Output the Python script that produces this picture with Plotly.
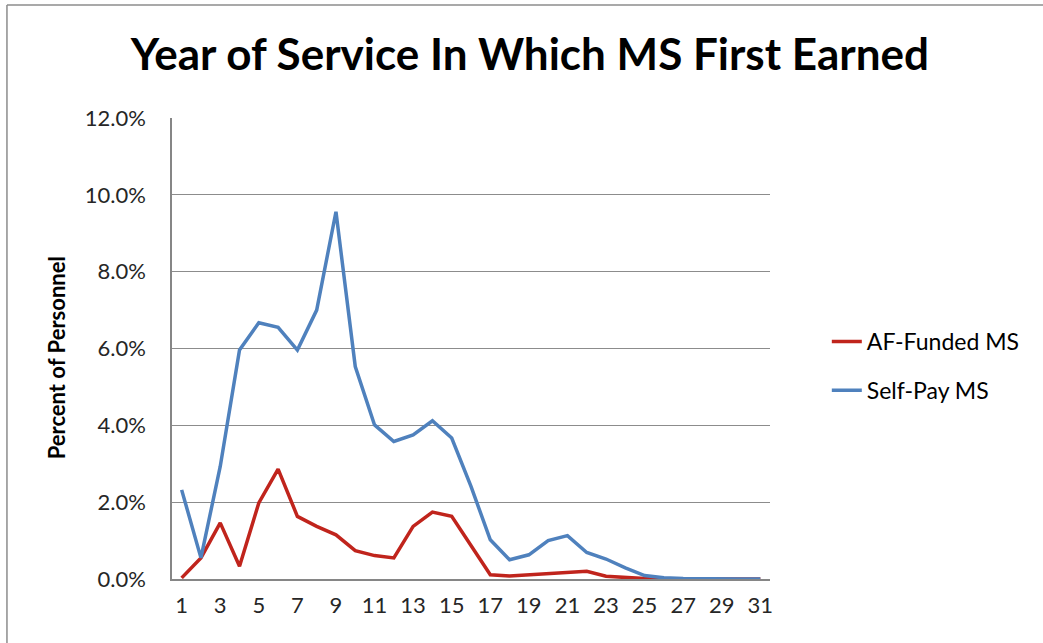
import plotly.graph_objects as go

years = list(range(1, 32))
af_funded = [0.0003, 0.0055, 0.0146, 0.0033, 0.0198, 0.0286, 0.0163, 0.0137, 0.0115, 0.0074,
             0.0061, 0.0055, 0.0137, 0.0174, 0.0163, 0.0089, 0.0011, 0.0008, 0.0011, 0.0013,
             0.0017, 0.0020, 0.0007, 0.0003, 0.0001, 0.0, 0.0, 0.0, 0.0, 0.0, 0.0]
self_pay = [0.0232, 0.0055, 0.0293, 0.0596, 0.0667, 0.0655, 0.0596, 0.0700, 0.0956, 0.0553,
            0.0401, 0.0358, 0.0375, 0.0412, 0.0367, 0.0241, 0.0102, 0.0050, 0.0063, 0.0100,
            0.0113, 0.0069, 0.0052, 0.0029, 0.0009, 0.0003, 0.0001, 0.0, 0.0, 0.0, 0.0]
x_ticks = list(range(1, 32, 2))
y_ticks = [0, 0.02, 0.04, 0.06, 0.08, 0.10, 0.12]

fig = go.Figure()
fig.add_trace(go.Scatter(x=years, y=af_funded, mode="lines", name="AF-Funded MS",
                         line=dict(color="#C0241C", width=3.5), legendgroup="a"))
fig.add_trace(go.Scatter(x=years, y=self_pay, mode="lines", name="Self-Pay MS",
                         line=dict(color="#4F81BD", width=3.5), legendgroup="b"))

fig.update_layout(
    width=1043, height=643,
    margin=dict(l=172, r=273, t=118, b=64),
    paper_bgcolor="white", plot_bgcolor="white",
    title=dict(text="<b>Year of Service In Which MS First Earned</b>",
               x=0.508, xanchor="center", y=0.915, yanchor="middle",
               font=dict(family="Lato", size=44, color="#000000")),
    font=dict(family="Lato", size=22, color="#262626"),
    showlegend=True,
    legend=dict(x=1.095, xanchor="left", y=0.462, yanchor="middle",
                font=dict(family="Lato", size=23, color="#000000"),
                tracegroupgap=16, bgcolor="rgba(0,0,0,0)"),
    xaxis=dict(range=[0.5, 31.5], tickmode="array", tickvals=x_ticks,
               showgrid=False, showline=True, linecolor="#868686", linewidth=1.5,
               zeroline=False, ticks="", ticklabelstandoff=6,
               tickfont=dict(size=22, color="#262626")),
    yaxis=dict(range=[0, 0.12], tickmode="array", tickvals=y_ticks, tickformat=".1%",
               showgrid=True, gridcolor="#8C8C8C", gridwidth=1.3,
               showline=True, linecolor="#868686", linewidth=1.5, zeroline=False,
               ticks="", ticklabelstandoff=20, tickfont=dict(size=22, color="#262626")),
    annotations=[
        dict(text="<b>Percent of Personnel</b>", xref="paper", yref="paper",
             x=-0.193, y=0.48, xanchor="center", yanchor="middle", textangle=-90,
             showarrow=False, font=dict(family="Lato", size=22, color="#000000")),
    ],
    shapes=[
        dict(type="line", xref="paper", yref="paper", x0=-0.276, x1=1.46, y0=1.245, y1=1.245,
             line=dict(color="#8C8C8C", width=1.5)),
        dict(type="line", xref="paper", yref="paper", x0=-0.276, x1=-0.276, y0=-0.2, y1=1.245,
             line=dict(color="#8C8C8C", width=1.5)),
    ],
)

fig.write_html("out.html", config={"displayModeBar": False},
               post_script="document.body.style.margin='0px';")
